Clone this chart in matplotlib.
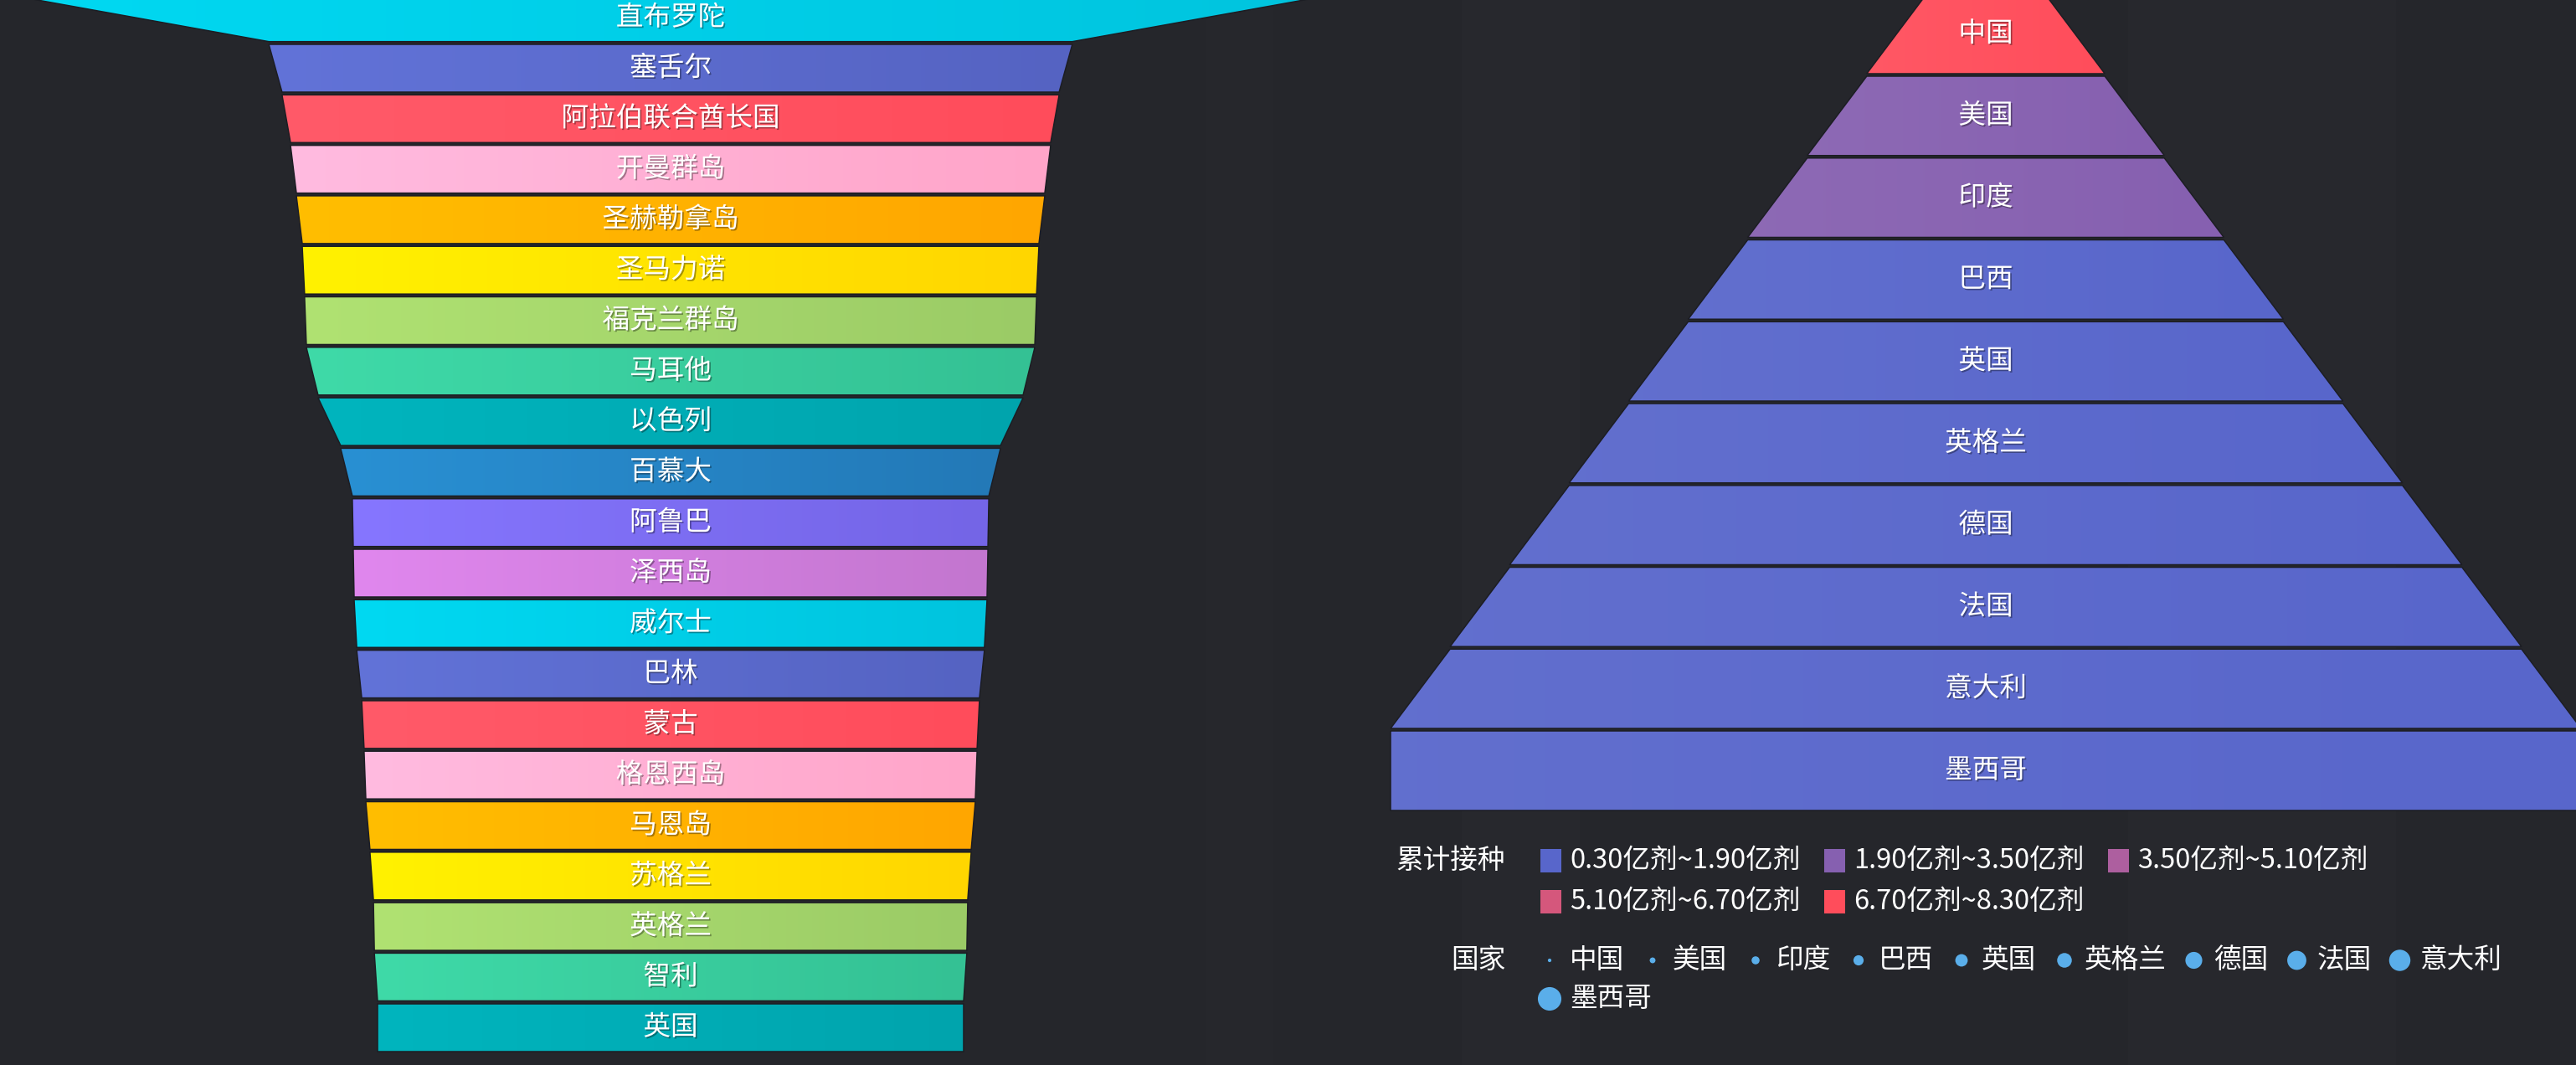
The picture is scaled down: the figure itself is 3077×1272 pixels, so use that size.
import numpy as np
import matplotlib
matplotlib.use('Agg')
import matplotlib.pyplot as plt
from matplotlib.patches import Polygon, Rectangle
from matplotlib.colors import to_rgb
import matplotlib.patheffects as pe

plt.rcParams['font.family'] = ['Noto Sans CJK SC', 'DejaVu Sans']

# 左侧漏斗: 每百人接种剂量
funnel_names = ['直布罗陀', '塞舌尔', '阿拉伯联合酋长国', '开曼群岛', '圣赫勒拿岛', '圣马力诺',
                '福克兰群岛', '马耳他', '以色列', '百慕大', '阿鲁巴', '泽西岛', '威尔士', '巴林',
                '蒙古', '格恩西岛', '马恩岛', '苏格兰', '英格兰', '智利', '英国']
funnel_values = [227.7, 137.1, 132.6, 129.7, 127.7, 125.7, 124.9, 124.3, 120.3, 112.6, 108.6,
                 108.3, 108.0, 107.1, 105.4, 104.6, 104.0, 102.6, 101.4, 101.1, 100.0]

# 右侧金字塔: 累计接种 (亿剂)
pyr_names = ['中国', '美国', '印度', '巴西', '英国', '英格兰', '德国', '法国', '意大利', '墨西哥']
pyr_doses = [8.30, 3.02, 2.16, 0.82, 0.70, 0.59, 0.56, 0.42, 0.38, 0.30]
pyr_rank = [1, 2, 3, 4, 5, 6, 7, 8, 9, 10]

# visualMap 分段
piece_bounds = [0.30, 1.90, 3.50, 5.10, 6.70, 8.30]
piece_labels = ['0.30亿剂~1.90亿剂', '1.90亿剂~3.50亿剂', '3.50亿剂~5.10亿剂',
                '5.10亿剂~6.70亿剂', '6.70亿剂~8.30亿剂']
piece_colors = ['#5866cb', '#8660b0', '#ad5f9f', '#d5577c', '#ff4d5b']

# 漏斗配色 (左亮右暗的渐变)
palette = [('#00d9f2', '#00c4de'), ('#6273d8', '#5563c2'), ('#ff5a69', '#ff4c5b'),
           ('#ffbbe0', '#ffa5c9'), ('#ffbe00', '#ffa600'), ('#fff200', '#ffd600'),
           ('#b0e272', '#9bcb66'), ('#3fdaa8', '#34c194'), ('#00b5be', '#00a4ad'),
           ('#2990d3', '#2379b7'), ('#8676ff', '#7465e6'), ('#e087ee', '#c376cf')]

BG = '#25262b'
EDGE = '#1c1d23'

fig = plt.figure(figsize=(30.77, 12.72), dpi=100)
fig.patch.set_facecolor(BG)
ax = fig.add_axes([0, 0, 1, 1])
ax.set_facecolor(BG)
ax.axis('off')

# 背景上淡淡的竖条纹
for x0, x1, a in [(1746, 1887, 0.012), (2542, 2862, 0.01), (1440, 1520, 0.008)]:
    ax.axvspan(x0, x1, color='white', alpha=a, lw=0, zorder=0)

shadow = [pe.withSimplePatchShadow(offset=(1.2, -1.2), shadow_rgbFace='#000000', alpha=0.35)]


def lighten(c, f):
    r = np.array(to_rgb(c))
    return tuple(r + (1 - r) * f)


def grad_piece(pts, c1, c2):
    poly = Polygon(pts, closed=True, facecolor='none', edgecolor=EDGE, lw=1.1, zorder=3)
    ax.add_patch(poly)
    xs = [p[0] for p in pts]
    ys = [p[1] for p in pts]
    g = np.linspace(0, 1, 256)[:, None]
    rgb = np.array(to_rgb(c1)) * (1 - g) + np.array(to_rgb(c2)) * g
    im = ax.imshow(rgb[None, :, :], extent=[min(xs), max(xs), max(ys), min(ys)],
                   aspect='auto', interpolation='bilinear', zorder=2)
    im.set_clip_path(poly)


def funnel(values, names, colors, cx, top, row_h, gap, max_half, vmax):
    n = len(values)
    for i in range(n):
        y0 = top + i * (row_h + gap)
        y1 = y0 + row_h
        h0 = values[i] / vmax * max_half
        h1 = (values[i + 1] if i + 1 < n else values[i]) / vmax * max_half
        pts = [(cx - h0, y0), (cx + h0, y0), (cx + h1, y1), (cx - h1, y1)]
        grad_piece(pts, colors[i][0], colors[i][1])
        ax.text(cx, (y0 + y1) / 2, names[i], color='white', fontsize=23.5,
                ha='center', va='center', zorder=5, path_effects=shadow)


# 左侧漏斗
funnel(funnel_values, funnel_names, [palette[i % len(palette)] for i in range(len(funnel_values))],
       cx=801, top=-7.3, row_h=57, gap=3.3, max_half=797, vmax=max(funnel_values))


# 右侧金字塔, 颜色由累计接种量决定
def piece_color(v):
    for k in range(len(piece_colors)):
        if v <= piece_bounds[k + 1]:
            return piece_colors[k]
    return piece_colors[-1]


pyr_cols = [(lighten(piece_color(v), 0.06), piece_color(v)) for v in pyr_doses]
funnel(pyr_rank, pyr_names, pyr_cols, cx=2372, top=-6.75, row_h=94.75, gap=3,
       max_half=711, vmax=max(pyr_rank))

# visualMap 图例
ax.text(1798, 1028, '累计接种', color='white', fontsize=23.5, ha='right', va='center')
for k, lab in enumerate(piece_labels):
    row, col = divmod(k, 3)
    x = 1840 + col * 339
    y = 1028 + row * 49
    ax.add_patch(Rectangle((x, y - 14), 25, 28, facecolor=piece_colors[k], edgecolor='none'))
    ax.text(x + 35, y, lab, color='white', fontsize=23.5, ha='left', va='center')

# 国家图例
ax.text(1798, 1147, '国家', color='white', fontsize=23.5, ha='right', va='center')
x = 1839
y = 1147
for name, r in zip(pyr_names, pyr_rank):
    w = 24 + 12 + len(name) * 31.5
    if x + w > 3040:
        x = 1839
        y += 46
    d = 1.6 + 2.65 * r
    ax.scatter([x + 12], [y], s=(d * 0.72) ** 2, color='#5aaeea', edgecolors='none', zorder=4)
    ax.text(x + 36, y, name, color='white', fontsize=23.5, ha='left', va='center')
    x += w + 24

ax.set_xlim(0, 3077)
ax.set_ylim(1272, 0)

fig.savefig('out.png', dpi=100, facecolor=BG)
